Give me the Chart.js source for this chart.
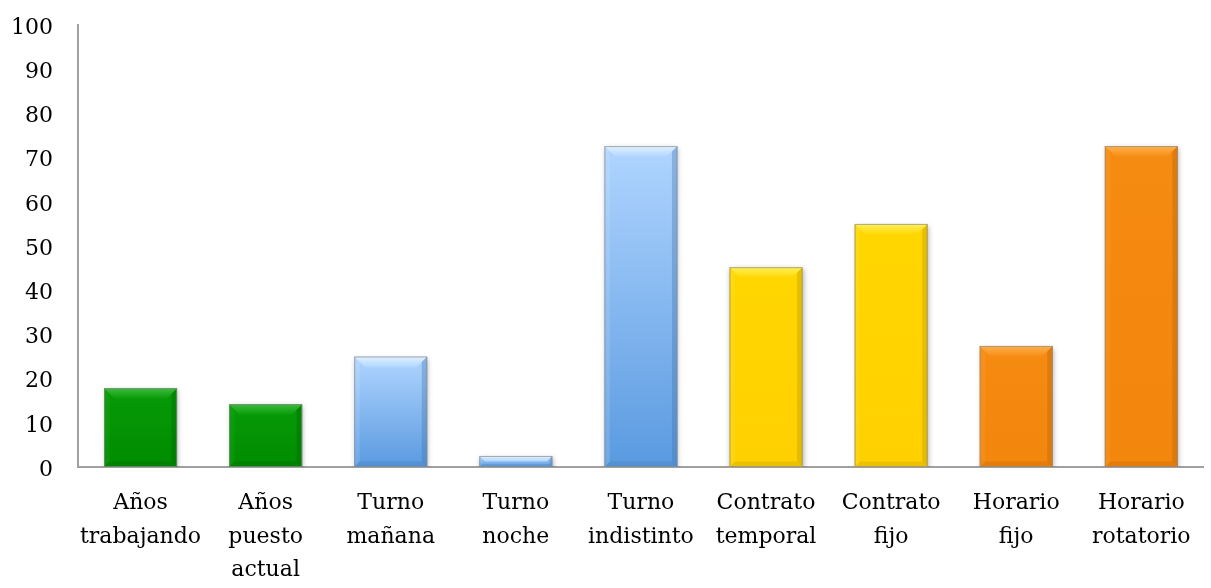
<!DOCTYPE html>
<html>
<head>
<meta charset="utf-8">
<script src="https://cdn.jsdelivr.net/npm/chart.js@4/dist/chart.umd.min.js"></script>
<style>
  html, body { margin: 0; padding: 0; background: #fff; }
  #wrap { width: 1211px; height: 588px; position: relative; }
</style>
</head>
<body>
<div id="wrap"><canvas id="chart"></canvas></div>
<script>
// datos
const categories = [
  ["Años", "trabajando"],
  ["Años", "puesto", "actual"],
  ["Turno", "mañana"],
  ["Turno", "noche"],
  ["Turno", "indistinto"],
  ["Contrato", "temporal"],
  ["Contrato", "fijo"],
  ["Horario", "fijo"],
  ["Horario", "rotatorio"]
];
const values = [17.8, 14.2, 25, 2.5, 72.6, 45.2, 55, 27.4, 72.6];
const groups = ["verde", "verde", "azul", "azul", "azul", "amarillo", "amarillo", "naranja", "naranja"];
const yTicks = [0, 10, 20, 30, 40, 50, 60, 70, 80, 90, 100];

const palette = {
  verde:    { top: "#079a07", bottom: "#008c00", light: "#3dbd3d", dark: "#006400" },
  azul:     { top: "#b0d5ff", bottom: "#5a9ae0", light: "#e4f3ff", dark: "#3f72aa" },
  amarillo: { top: "#ffd600", bottom: "#ffd000", light: "#fff25e", dark: "#b89400" },
  naranja:  { top: "#f68b12", bottom: "#f3860c", light: "#ffb450", dark: "#b45e08" }
};

function barFill(ctx) {
  const p = palette[groups[ctx.dataIndex]];
  const y = ctx.chart.scales.y;
  if (!y || !ctx.chart.chartArea) return p.top;
  const t = y.getPixelForValue(values[ctx.dataIndex]);
  const b = y.getPixelForValue(0);
  if (!isFinite(t) || !isFinite(b) || t === b) return p.top;
  const g = ctx.chart.ctx.createLinearGradient(0, t, 0, b);
  g.addColorStop(0, p.top);
  g.addColorStop(1, p.bottom);
  return g;
}

// sombra y bisel de las barras
const bevelPlugin = {
  id: "bevel",
  beforeDatasetsDraw(chart) {
    const c = chart.ctx;
    c.save();
    c.shadowColor = "rgba(0,0,0,0.3)";
    c.shadowBlur = 5;
    c.shadowOffsetX = 1;
    c.shadowOffsetY = 2;
  },
  afterDatasetsDraw(chart) {
    const c = chart.ctx;
    c.restore();
    const meta = chart.getDatasetMeta(0);
    meta.data.forEach((bar, i) => {
      const p = palette[groups[i]];
      const l = bar.x - bar.width / 2, r = bar.x + bar.width / 2;
      const t = bar.y, b = bar.base;
      const s = Math.min(11, (b - t) / 2);
      c.save();
      // arriba
      let g = c.createLinearGradient(0, t, 0, t + s);
      g.addColorStop(0, p.light);
      g.addColorStop(1, p.top);
      c.fillStyle = g;
      c.globalAlpha = 0.95;
      c.beginPath();
      c.moveTo(l, t); c.lineTo(r, t); c.lineTo(r - s, t + s); c.lineTo(l + s, t + s); c.closePath();
      c.fill();
      // derecha
      c.fillStyle = p.dark;
      c.globalAlpha = 0.35;
      c.beginPath();
      c.moveTo(r, t); c.lineTo(r, b); c.lineTo(r - s * 0.5, b - s * 0.5); c.lineTo(r - s * 0.5, t + s * 0.5); c.closePath();
      c.fill();
      // izquierda
      c.fillStyle = p.light;
      c.globalAlpha = 0.15;
      c.beginPath();
      c.moveTo(l, t); c.lineTo(l, b); c.lineTo(l + s * 0.5, b - s * 0.5); c.lineTo(l + s * 0.5, t + s * 0.5); c.closePath();
      c.fill();
      // abajo
      c.fillStyle = p.dark;
      c.globalAlpha = 0.25;
      c.beginPath();
      c.moveTo(l, b); c.lineTo(r, b); c.lineTo(r - s * 0.5, b - s * 0.5); c.lineTo(l + s * 0.5, b - s * 0.5); c.closePath();
      c.fill();
      // borde
      c.globalAlpha = 0.7;
      c.strokeStyle = "#8a8a8a";
      c.lineWidth = 1;
      c.strokeRect(l + 0.5, t + 0.5, r - l - 1, b - t - 1);
      c.restore();
    });
  }
};

const font = "'DejaVu Serif', 'Liberation Serif', serif";

new Chart(document.getElementById("chart"), {
  type: "bar",
  data: {
    labels: categories,
    datasets: [{
      data: values,
      backgroundColor: barFill,
      borderWidth: 0,
      barPercentage: 0.584,
      categoryPercentage: 1
    }]
  },
  options: {
    responsive: true,
    maintainAspectRatio: false,
    animation: false,
    layout: { padding: { top: 25, right: 7, left: 0, bottom: 0 } },
    plugins: { legend: { display: false }, tooltip: { enabled: false } },
    scales: {
      x: {
        grid: { display: false, drawTicks: false },
        border: { display: true, color: "#a0a0a0", width: 2 },
        ticks: {
          color: "#000",
          padding: 20,
          maxRotation: 0,
          autoSkip: false,
          font: { family: font, size: 22, lineHeight: 1.52 }
        },
        afterFit(scale) { scale.height = 121; }
      },
      y: {
        min: 0,
        max: 100,
        grid: { display: false, drawTicks: false },
        border: { display: true, color: "#a0a0a0", width: 2 },
        afterBuildTicks(scale) { scale.ticks = yTicks.map(v => ({ value: v })); },
        ticks: {
          color: "#000",
          padding: 25,
          labelOffset: 3,
          font: { family: font, size: 22 }
        },
        afterFit(scale) {
          scale.width = 78;
          scale.paddingTop = 0;
          scale.paddingBottom = 0;
        }
      }
    }
  },
  plugins: [bevelPlugin]
});
</script>
</body>
</html>
